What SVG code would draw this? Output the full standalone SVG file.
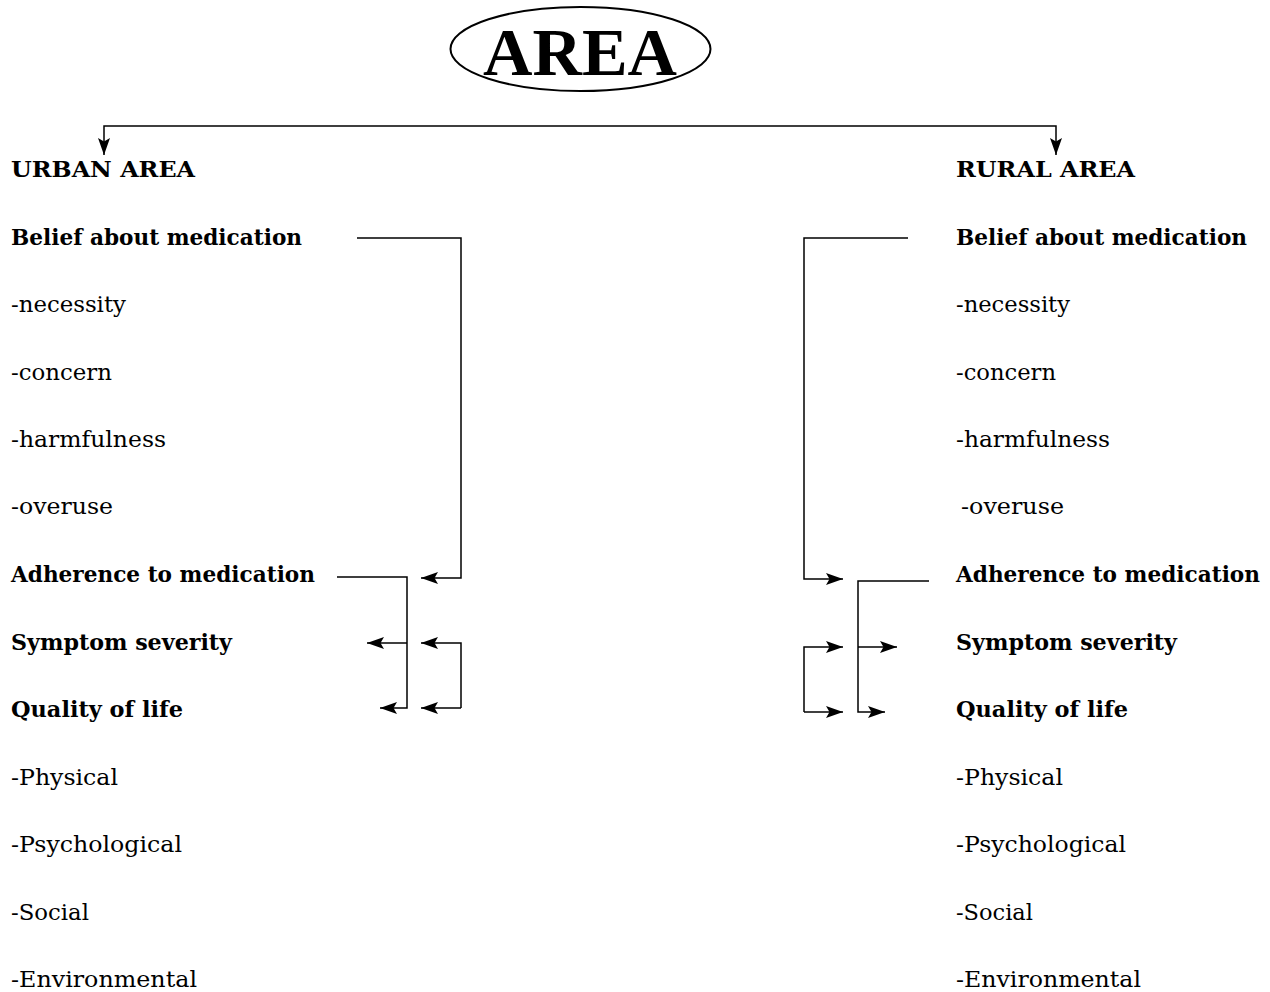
<svg xmlns="http://www.w3.org/2000/svg" width="1270" height="992" viewBox="0 0 1270 992">
<style>
.t{font-family:"DejaVu Serif","Liberation Serif",serif;font-size:21.5px;fill:#000}
.b{font-weight:bold}
.c{fill:none;stroke:#000;stroke-width:1.5}
</style>
<defs>
<marker id="ah" markerUnits="userSpaceOnUse" markerWidth="18" markerHeight="14" viewBox="0 0 18 14" refX="17" refY="7" orient="auto">
<path d="M0,1 L17,7 L0,13 L3.5,7 z" fill="#000"/>
</marker>
</defs>
<rect width="1270" height="992" fill="#fff"/>
<g id="area">
<ellipse cx="580.5" cy="49" rx="130" ry="42" fill="none" stroke="#000" stroke-width="2"/>
<text x="483" y="75" style="font-family:'Liberation Serif',serif;font-weight:bold;font-size:67px" textLength="194" lengthAdjust="spacingAndGlyphs">AREA</text>
</g>
<g id="urban">
<text x="11" y="177" class="t b" textLength="184" lengthAdjust="spacingAndGlyphs">URBAN AREA</text>
<text x="11" y="245" class="t b" textLength="291" lengthAdjust="spacingAndGlyphs">Belief about medication</text>
<text x="11" y="312" class="t" textLength="115" lengthAdjust="spacingAndGlyphs">-necessity</text>
<text x="11" y="380" class="t" textLength="101" lengthAdjust="spacingAndGlyphs">-concern</text>
<text x="11" y="447" class="t" textLength="155" lengthAdjust="spacingAndGlyphs">-harmfulness</text>
<text x="11" y="514" class="t" textLength="102" lengthAdjust="spacingAndGlyphs">-overuse</text>
<text x="11" y="582" class="t b" textLength="304" lengthAdjust="spacingAndGlyphs">Adherence to medication</text>
<text x="11" y="650" class="t b" textLength="221" lengthAdjust="spacingAndGlyphs">Symptom severity</text>
<text x="11" y="717" class="t b" textLength="172" lengthAdjust="spacingAndGlyphs">Quality of life</text>
<text x="11" y="785" class="t" textLength="107" lengthAdjust="spacingAndGlyphs">-Physical</text>
<text x="11" y="852" class="t" textLength="171" lengthAdjust="spacingAndGlyphs">-Psychological</text>
<text x="11" y="920" class="t" textLength="78" lengthAdjust="spacingAndGlyphs">-Social</text>
<text x="11" y="987" class="t" textLength="186" lengthAdjust="spacingAndGlyphs">-Environmental</text>
</g>
<g id="rural">
<text x="956" y="177" class="t b" textLength="179" lengthAdjust="spacingAndGlyphs">RURAL AREA</text>
<text x="956" y="245" class="t b" textLength="291" lengthAdjust="spacingAndGlyphs">Belief about medication</text>
<text x="956" y="312" class="t" textLength="114" lengthAdjust="spacingAndGlyphs">-necessity</text>
<text x="956" y="380" class="t" textLength="100" lengthAdjust="spacingAndGlyphs">-concern</text>
<text x="956" y="447" class="t" textLength="154" lengthAdjust="spacingAndGlyphs">-harmfulness</text>
<text x="961" y="514" class="t" textLength="103" lengthAdjust="spacingAndGlyphs">-overuse</text>
<text x="956" y="582" class="t b" textLength="304" lengthAdjust="spacingAndGlyphs">Adherence to medication</text>
<text x="956" y="650" class="t b" textLength="221" lengthAdjust="spacingAndGlyphs">Symptom severity</text>
<text x="956" y="717" class="t b" textLength="172" lengthAdjust="spacingAndGlyphs">Quality of life</text>
<text x="956" y="785" class="t" textLength="107" lengthAdjust="spacingAndGlyphs">-Physical</text>
<text x="956" y="852" class="t" textLength="170" lengthAdjust="spacingAndGlyphs">-Psychological</text>
<text x="956" y="920" class="t" textLength="77" lengthAdjust="spacingAndGlyphs">-Social</text>
<text x="956" y="987" class="t" textLength="185" lengthAdjust="spacingAndGlyphs">-Environmental</text>
</g>
<g id="connectors">
<path class="c" d="M580,126 H104 V155" marker-end="url(#ah)"/>
<path class="c" d="M580,126 H1056 V155" marker-end="url(#ah)"/>
<path class="c" d="M357,238 H461 V578 H421" marker-end="url(#ah)"/>
<path class="c" d="M337,577 H407 V708 H380" marker-end="url(#ah)"/>
<path class="c" d="M407,643 H367" marker-end="url(#ah)"/>
<path class="c" d="M461,708 V643 H421" marker-end="url(#ah)"/>
<path class="c" d="M461,708 H421" marker-end="url(#ah)"/>
<path class="c" d="M908,238 H804 V579 H843" marker-end="url(#ah)"/>
<path class="c" d="M929,581 H858 V712 H885" marker-end="url(#ah)"/>
<path class="c" d="M858,647 H897" marker-end="url(#ah)"/>
<path class="c" d="M804,712 V647 H843" marker-end="url(#ah)"/>
<path class="c" d="M804,712 H843" marker-end="url(#ah)"/>
</g>
</svg>
